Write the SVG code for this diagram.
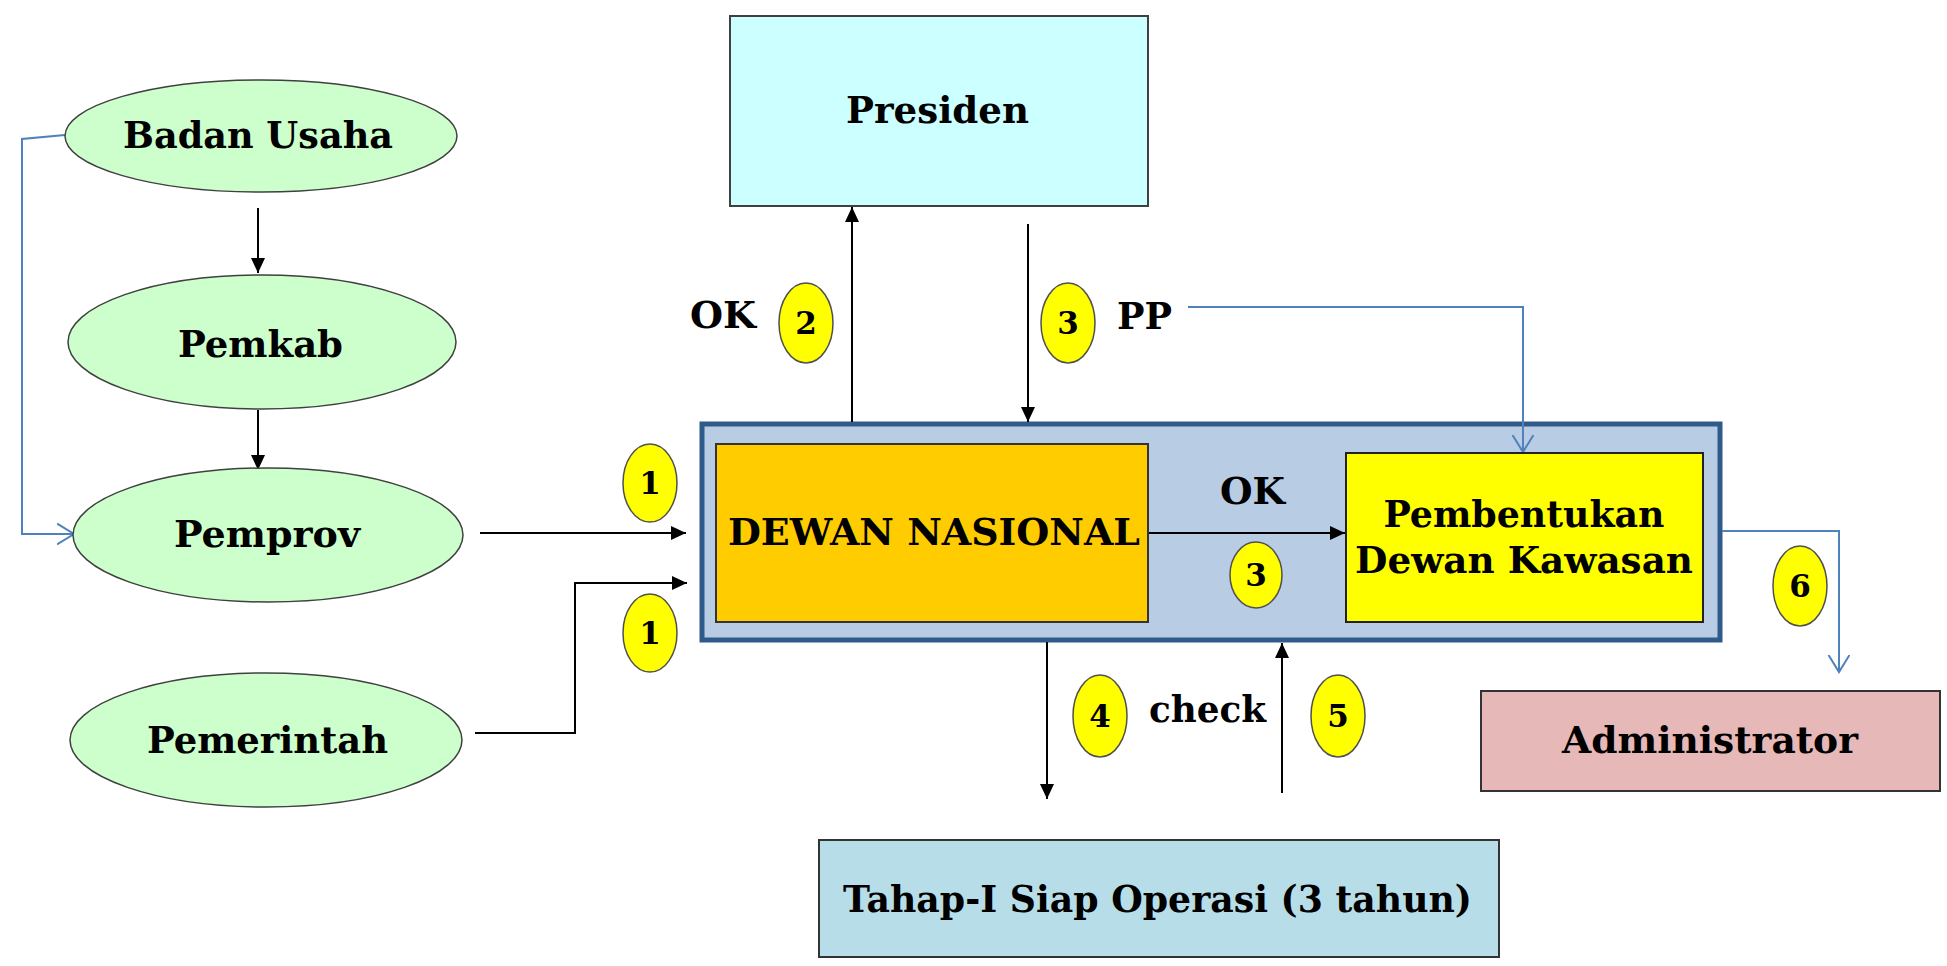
<svg xmlns="http://www.w3.org/2000/svg" width="1947" height="966" viewBox="0 0 1947 966">
<defs>
<style>
.t{font-family:"DejaVu Serif","Liberation Serif",serif;font-weight:bold;font-size:37px;fill:#000;text-anchor:middle}
.n{font-family:"DejaVu Serif","Liberation Serif",serif;font-weight:bold;font-size:31px;fill:#000;text-anchor:middle}
.ell{fill:#CCFFCC;stroke:#404040;stroke-width:1.5}
.badge{fill:#FFFF00;stroke:#505050;stroke-width:1.5}
.blk{fill:none;stroke:#000;stroke-width:2;marker-end:url(#ah)}
.blu{fill:none;stroke:#4F81BD;stroke-width:2;marker-end:url(#oh)}
</style>
<marker id="ah" markerUnits="userSpaceOnUse" markerWidth="16" markerHeight="14" refX="15" refY="7" orient="auto">
<path d="M0,0 L15,7 L0,14 z" fill="#000"/>
</marker>
<marker id="oh" markerUnits="userSpaceOnUse" markerWidth="20" markerHeight="24" refX="17" refY="11" orient="auto">
<path d="M0,0.5 L17,11 L0,21.5" fill="none" stroke="#4F81BD" stroke-width="2"/>
</marker>
</defs>
<rect width="1947" height="966" fill="#fff"/>

<g id="container">
<rect x="702" y="424" width="1018" height="216" fill="#B8CCE4" stroke="#2F5A8A" stroke-width="5"/>
</g>

<g id="connectors">
<path class="blk" d="M258,208 L258,273"/>
<path class="blk" d="M258,410 L258,470"/>
<path class="blu" d="M65,135 L22,139 L22,534 L74,534"/>
<path class="blk" d="M480,533 L686,533"/>
<path class="blk" d="M475,733 L575,733 L575,583 L687,583"/>
<path class="blk" d="M852,422 L852,207"/>
<path class="blk" d="M1028,224 L1028,422"/>
<path class="blu" d="M1188,307 L1523,307 L1523,452"/>
<path class="blk" d="M1148,533 L1345,533"/>
<path class="blu" d="M1722,531 L1839,531 L1839,672"/>
<path class="blk" d="M1047,642 L1047,799"/>
<path class="blk" d="M1282,793 L1282,643"/>
</g>

<g id="badan-usaha">
<ellipse class="ell" cx="261" cy="136" rx="196" ry="56"/>
<text class="t" x="258" y="148" textLength="270" lengthAdjust="spacingAndGlyphs">Badan Usaha</text>
</g>
<g id="pemkab">
<ellipse class="ell" cx="262" cy="342" rx="194" ry="67"/>
<text class="t" x="260.5" y="357" textLength="165" lengthAdjust="spacingAndGlyphs">Pemkab</text>
</g>
<g id="pemprov">
<ellipse class="ell" cx="268" cy="535" rx="195" ry="67"/>
<text class="t" x="267" y="547" textLength="186" lengthAdjust="spacingAndGlyphs">Pemprov</text>
</g>
<g id="pemerintah">
<ellipse class="ell" cx="266" cy="740" rx="196" ry="67"/>
<text class="t" x="267.5" y="753" textLength="241" lengthAdjust="spacingAndGlyphs">Pemerintah</text>
</g>

<g id="presiden">
<rect x="730" y="16" width="418" height="190" fill="#CCFFFF" stroke="#404040" stroke-width="2"/>
<text class="t" x="937.5" y="123" textLength="183" lengthAdjust="spacingAndGlyphs">Presiden</text>
</g>

<g id="dewan-nasional">
<rect x="716" y="444" width="432" height="178" fill="#FFCC00" stroke="#333" stroke-width="2"/>
<text class="t" x="934" y="545" textLength="412" lengthAdjust="spacingAndGlyphs">DEWAN NASIONAL</text>
</g>

<g id="pembentukan">
<rect x="1346" y="453" width="357" height="169" fill="#FFFF00" stroke="#222" stroke-width="2"/>
<text class="t" x="1524" y="527" textLength="281" lengthAdjust="spacingAndGlyphs">Pembentukan</text>
<text class="t" x="1524" y="573" textLength="338" lengthAdjust="spacingAndGlyphs">Dewan Kawasan</text>
</g>

<g id="administrator">
<rect x="1481" y="691" width="459" height="100" fill="#E6B8B7" stroke="#333" stroke-width="2"/>
<text class="t" x="1710" y="753" textLength="296" lengthAdjust="spacingAndGlyphs">Administrator</text>
</g>

<g id="tahap">
<rect x="819" y="840" width="680" height="117" fill="#B7DEE8" stroke="#333" stroke-width="2"/>
<text class="t" x="1157.5" y="912" textLength="629" lengthAdjust="spacingAndGlyphs">Tahap-I Siap Operasi (3 tahun)</text>
</g>

<g id="labels">
<text class="t" x="723" y="328" textLength="66" lengthAdjust="spacingAndGlyphs">OK</text>
<text class="t" x="1144.5" y="329" textLength="55" lengthAdjust="spacingAndGlyphs">PP</text>
<text class="t" x="1252.5" y="504" textLength="65" lengthAdjust="spacingAndGlyphs">OK</text>
<text class="t" x="1207.5" y="722" textLength="117" lengthAdjust="spacingAndGlyphs">check</text>
</g>

<g id="badges">
<ellipse class="badge" cx="650" cy="483" rx="27" ry="39"/><text class="n" x="650" y="494">1</text>
<ellipse class="badge" cx="650" cy="633" rx="27" ry="39"/><text class="n" x="650" y="644">1</text>
<ellipse class="badge" cx="806" cy="323" rx="27" ry="40"/><text class="n" x="806" y="334">2</text>
<ellipse class="badge" cx="1068" cy="323" rx="27" ry="40"/><text class="n" x="1068" y="334">3</text>
<ellipse class="badge" cx="1256" cy="575" rx="26" ry="33"/><text class="n" x="1256" y="586">3</text>
<ellipse class="badge" cx="1100" cy="716" rx="27" ry="41"/><text class="n" x="1100" y="727">4</text>
<ellipse class="badge" cx="1338" cy="716" rx="27" ry="41"/><text class="n" x="1338" y="727">5</text>
<ellipse class="badge" cx="1800" cy="586" rx="27" ry="40"/><text class="n" x="1800" y="597">6</text>
</g>
</svg>
